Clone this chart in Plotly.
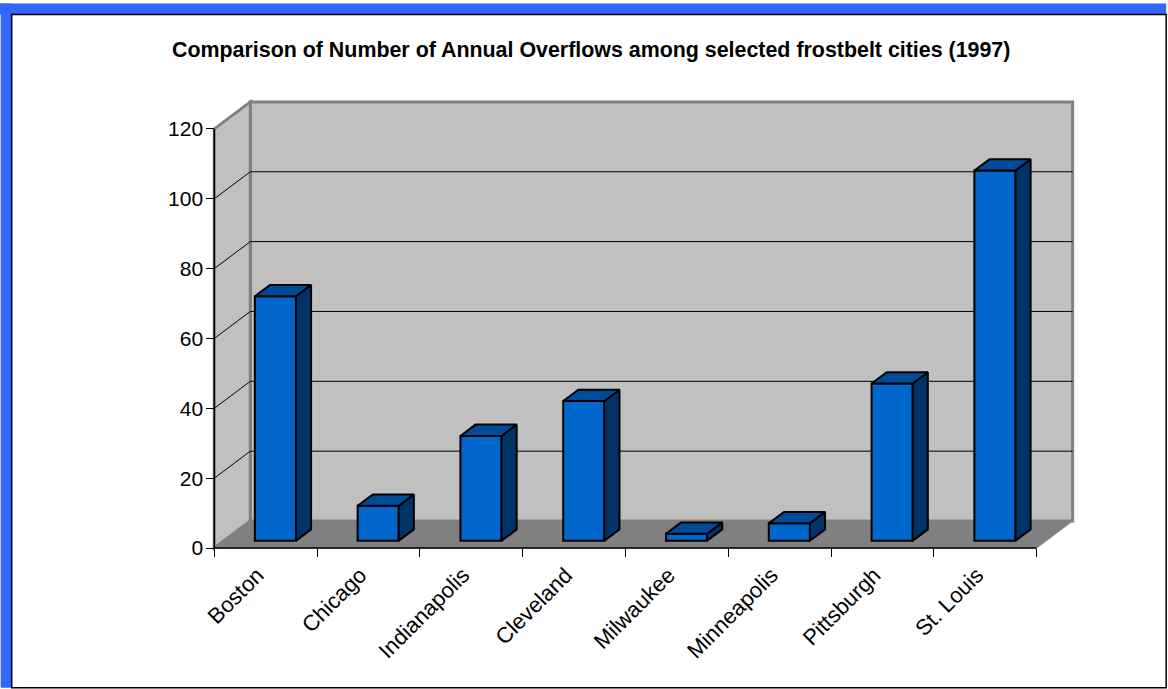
import plotly.graph_objects as go

# Data
cities = ["Boston", "Chicago", "Indianapolis", "Cleveland",
          "Milwaukee", "Minneapolis", "Pittsburgh", "St. Louis"]
overflows = [70, 10, 30, 40, 2, 5, 45, 106]
y_ticks = [0, 20, 40, 60, 80, 100, 120]

TITLE = "Comparison of Number of Annual Overflows among selected frostbelt cities (1997)"
FONT = "Arial, Liberation Sans, sans-serif"

# Figure / pixel geometry
W, H = 1168, 689
PX_X = 102.75          # pixels per category unit
PX_Y = 3.4917          # pixels per overflow unit
X_RANGE = [-0.1, 8.5]
Y_RANGE = [-2.0, 130.0]
ORIGIN_PX = (214.5, 548.3)   # pixel position of (x=0, y=0)

left = ORIGIN_PX[0] + X_RANGE[0] * PX_X
right = ORIGIN_PX[0] + X_RANGE[1] * PX_X
bottom = ORIGIN_PX[1] - Y_RANGE[0] * PX_Y
top = ORIGIN_PX[1] - Y_RANGE[1] * PX_Y

# 3-D depth offset of the chart box (data units)
DX = 36 / PX_X
DY = 27 / PX_Y
N = len(cities)
YMAX = y_ticks[-1]

# bar placement inside the depth
BAR_W = 0.4
FRONT_F = 0.27
BAR_DEPTH_F = 0.42
bx_off, by_base = FRONT_F * DX, FRONT_F * DY
bdx, bdy = BAR_DEPTH_F * DX, BAR_DEPTH_F * DY

centers = [i + 0.5 + bx_off for i in range(N)]

fig = go.Figure()

# front faces of the bars
fig.add_trace(go.Bar(
    x=centers, y=overflows, base=[by_base] * N, width=BAR_W,
    marker=dict(color="#0066CC", line=dict(color="black", width=2)),
    hoverinfo="skip", showlegend=False,
))

# side and top faces of the bars
side_x, side_y, top_x, top_y = [], [], [], []
for c, v in zip(centers, overflows):
    a, b = c - BAR_W / 2, c + BAR_W / 2
    y0, y1 = by_base, by_base + v
    side_x += [b, b + bdx, b + bdx, b, b, None]
    side_y += [y0, y0 + bdy, y1 + bdy, y1, y0, None]
    top_x += [a, b, b + bdx, a + bdx, a, None]
    top_y += [y1, y1, y1 + bdy, y1 + bdy, y1, None]

fig.add_trace(go.Scatter(
    x=side_x, y=side_y, mode="lines", fill="toself", fillcolor="#003366",
    line=dict(color="black", width=2), hoverinfo="skip", showlegend=False,
))
fig.add_trace(go.Scatter(
    x=top_x, y=top_y, mode="lines", fill="toself", fillcolor="#004C99",
    line=dict(color="black", width=2), hoverinfo="skip", showlegend=False,
))

shapes = []
# back wall
shapes.append(dict(type="rect", xref="x", yref="y", layer="below",
                   x0=DX, y0=DY, x1=N + DX, y1=YMAX + DY,
                   fillcolor="#C0C0C0", line=dict(color="#808080", width=3)))
# side wall
shapes.append(dict(type="path", xref="x", yref="y", layer="below",
                   path=f"M0,0 L0,{YMAX} L{DX},{YMAX + DY} L{DX},{DY} Z",
                   fillcolor="#C0C0C0", line=dict(color="#808080", width=3)))
# floor
shapes.append(dict(type="path", xref="x", yref="y", layer="below",
                   path=f"M0,0 L{N},0 L{N + DX},{DY} L{DX},{DY} Z",
                   fillcolor="#808080", line=dict(color="#808080", width=1)))
# gridlines on back and side walls
for t in y_ticks[1:-1]:
    shapes.append(dict(type="line", xref="x", yref="y", layer="below",
                       x0=DX, y0=t + DY, x1=N + DX, y1=t + DY,
                       line=dict(color="black", width=1)))
    shapes.append(dict(type="line", xref="x", yref="y", layer="below",
                       x0=0, y0=t, x1=DX, y1=t + DY,
                       line=dict(color="black", width=1)))
# front axis lines
shapes.append(dict(type="line", xref="x", yref="y", layer="below",
                   x0=0, y0=0, x1=0, y1=YMAX, line=dict(color="black", width=1.5)))
shapes.append(dict(type="line", xref="x", yref="y", layer="below",
                   x0=0, y0=0, x1=N, y1=0, line=dict(color="black", width=1.5)))


# page frame (pixel -> paper coordinates)
def px(xp):
    return (xp - left) / (right - left)


def py(yp):
    return (bottom - yp) / (bottom - top)


shapes.append(dict(type="rect", xref="paper", yref="paper", layer="below",
                   x0=px(0), y0=py(4), x1=px(1166), y1=py(15),
                   fillcolor="#3366FF", line=dict(width=0)))
shapes.append(dict(type="rect", xref="paper", yref="paper", layer="below",
                   x0=px(1), y0=py(4), x1=px(12), y1=py(688),
                   fillcolor="#3366FF", line=dict(width=0)))
shapes.append(dict(type="rect", xref="paper", yref="paper", layer="above",
                   x0=px(12), y0=py(15), x1=px(1166), y1=py(688),
                   fillcolor="rgba(0,0,0,0)", line=dict(color="black", width=1.5)))

fig.update_layout(
    width=W, height=H,
    margin=dict(l=left, r=W - right, t=top, b=H - bottom, pad=0),
    paper_bgcolor="white", plot_bgcolor="rgba(0,0,0,0)",
    font=dict(family=FONT, color="black"),
    shapes=shapes,
    showlegend=False,
    annotations=[dict(
        text=f"<b>{TITLE}</b>", xref="paper", yref="paper",
        x=px(591), y=py(50), xanchor="center", yanchor="middle",
        showarrow=False, font=dict(family=FONT, size=21.4, color="black"),
    )],
    xaxis=dict(
        range=X_RANGE, anchor="free",
        position=(0 - Y_RANGE[0]) / (Y_RANGE[1] - Y_RANGE[0]),
        tickmode="array", tickvals=[i + 0.42 for i in range(N)], ticktext=cities,
        ticks="", tickangle=-45, tickfont=dict(size=22, family=FONT),
        ticklabelstandoff=9,
        minor=dict(tickmode="array", tickvals=list(range(N + 1)), ticks="outside",
                   ticklen=8, tickwidth=1, tickcolor="black", showgrid=False),
        showgrid=False, zeroline=False, showline=False, automargin=False,
        fixedrange=True,
    ),
    yaxis=dict(
        range=Y_RANGE, anchor="free",
        position=(0 - X_RANGE[0]) / (X_RANGE[1] - X_RANGE[0]),
        tickmode="array", tickvals=y_ticks, ticks="outside", ticklen=8,
        tickwidth=1, tickcolor="black", tickfont=dict(size=21, family=FONT),
        ticklabelstandoff=-1,
        showgrid=False, zeroline=False, showline=False, automargin=False,
        fixedrange=True,
    ),
)

fig.write_html("out.html")
